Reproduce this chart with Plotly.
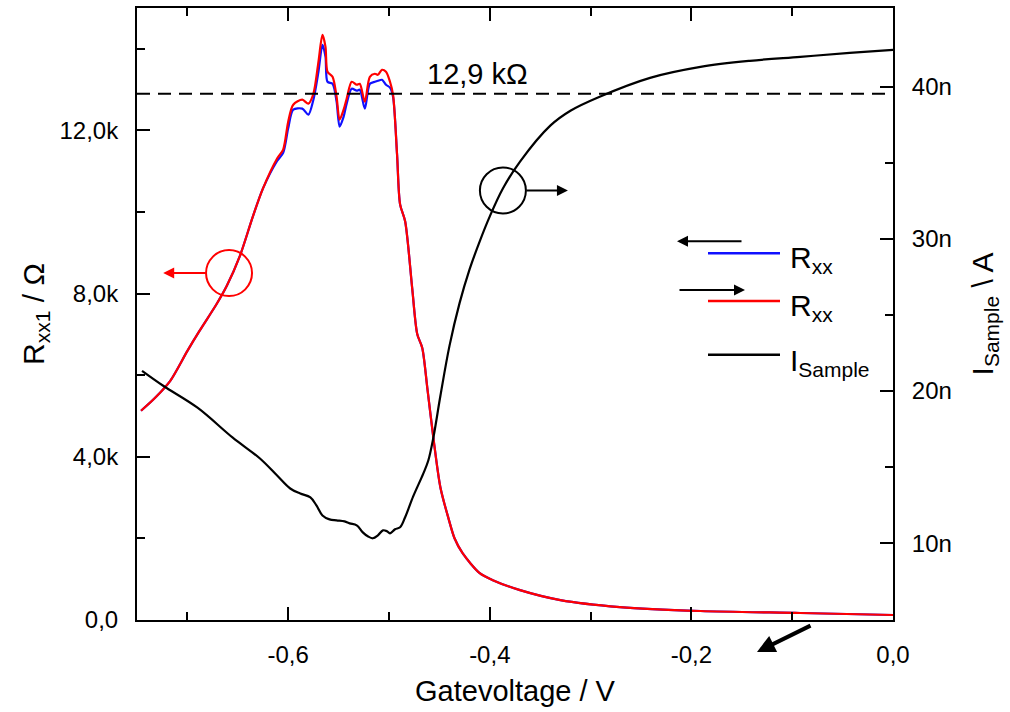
import plotly.graph_objects as go

# Gate sweep: longitudinal resistance (two sweep directions) and sample current
v_rxx = [-0.746, -0.732, -0.717, -0.700, -0.688, -0.671, -0.661, -0.648, -0.635, -0.625,
         -0.611, -0.605, -0.600, -0.595, -0.586, -0.580, -0.575, -0.570, -0.566, -0.563,
         -0.561, -0.556, -0.552, -0.549, -0.545, -0.542, -0.537, -0.532, -0.529, -0.524,
         -0.519, -0.514, -0.511, -0.507, -0.503, -0.499, -0.496, -0.492, -0.489, -0.484,
         -0.477, -0.472, -0.467, -0.462, -0.456, -0.449, -0.441, -0.435, -0.427, -0.410,
         -0.397, -0.370, -0.330, -0.271, -0.191, -0.092, 0.000]

rxx_up = [5130, 5448, 5863, 6596, 7085, 7744, 8184, 8917, 9894, 10578,
          11311, 11531, 12215, 12630, 12752, 12655, 12899, 13681, 14340, 14047,
          13437, 13314, 12826, 12264, 12508, 12777, 13192, 13119, 13143, 12704,
          13314, 13388, 13363, 13485, 13437, 13192, 12875, 11409, 10187, 9772,
          8135, 7011, 6669, 5692, 4471, 3249, 2492, 2003, 1637, 1148,
          977, 733, 489, 318, 220, 171, 122]

rxx_down = [5130, 5448, 5863, 6596, 7085, 7744, 8184, 8917, 9894, 10578,
            11250, 11450, 12050, 12508, 12533, 12386, 12752, 13437, 14096, 13803,
            13192, 13143, 12704, 12093, 12337, 12655, 13021, 12973, 12997, 12533,
            13143, 13192, 13216, 13241, 13119, 13046, 12826, 11409, 10187, 9772,
            8135, 7011, 6669, 5692, 4471, 3249, 2492, 2003, 1637, 1148,
            977, 733, 489, 318, 220, 171, 122]

v_isample = [-0.745, -0.724, -0.690, -0.655, -0.628, -0.611, -0.598, -0.588, -0.578, -0.572,
             -0.566, -0.559, -0.552, -0.544, -0.539, -0.532, -0.526, -0.521, -0.516, -0.511,
             -0.506, -0.502, -0.499, -0.494, -0.489, -0.484, -0.476, -0.466, -0.461, -0.456,
             -0.449, -0.440, -0.430, -0.420, -0.410, -0.400, -0.387, -0.370, -0.340, -0.320,
             -0.291, -0.241, -0.191, -0.142, -0.092, -0.043, 0.000]

i_sample_na = [21.33, 20.35, 18.91, 16.94, 15.57, 14.45, 13.60, 13.27, 13.01, 12.49,
               11.83, 11.57, 11.51, 11.44, 11.31, 11.18, 10.72, 10.46, 10.33, 10.52,
               10.85, 10.79, 10.65, 10.92, 11.05, 11.71, 13.08, 14.58, 15.44, 16.94,
               19.69, 22.97, 25.78, 28.01, 29.84, 31.48, 33.31, 35.08, 37.44, 38.42,
               39.34, 40.58, 41.30, 41.70, 41.96, 42.22, 42.42]

quantum_resistance = 12900  # h/(2e^2), ~12.9 kOhm

x_ticks = [-0.6, -0.4, -0.2, 0.0]
x_ticktext = ["-0,6", "-0,4", "-0,2", "0,0"]
x_minor = [-0.7, -0.5, -0.3, -0.1]
y_ticks = [0, 4000, 8000, 12000]
y_ticktext = ["0,0", "4,0k", "8,0k", "12,0k"]
y_minor = [2000, 6000, 10000, 14000]
y2_ticks = [10, 20, 30, 40]
y2_ticktext = ["10n", "20n", "30n", "40n"]
y2_minor = [15, 25, 35]

FONT = "Arial, Liberation Sans, sans-serif"

fig = go.Figure()
fig.add_trace(go.Scatter(x=v_isample, y=i_sample_na, yaxis="y2", mode="lines",
                         name="I_Sample", line=dict(color="black", width=2.2, shape="spline", smoothing=1.0)))
fig.add_trace(go.Scatter(x=v_rxx, y=rxx_down, mode="lines", name="Rxx (down)",
                         line=dict(color="#1010ff", width=2.2, shape="spline", smoothing=0.8)))
fig.add_trace(go.Scatter(x=v_rxx, y=rxx_up, mode="lines", name="Rxx (up)",
                         line=dict(color="#ff0000", width=2.2, shape="spline", smoothing=0.8)))

# plot area in pixels: x 137..893, y 6..620
PX0, PX1, PY0, PY1 = 137, 893, 6, 620


def px(x):
    return (x - PX0) / (PX1 - PX0)


def py(y):
    return (PY1 - y) / (PY1 - PY0)


shapes = [
    dict(type="line", xref="paper", x0=0, x1=1, yref="y", y0=quantum_resistance, y1=quantum_resistance,
         line=dict(color="black", width=2, dash="13px,8px")),
    # marker circles pointing to the axis of each curve
    dict(type="circle", xref="x", yref="y", xsizemode="pixel", ysizemode="pixel",
         xanchor=-0.6587, yanchor=8502, x0=-23, x1=23, y0=-23, y1=23,
         line=dict(color="#ff0000", width=2)),
    dict(type="circle", xref="x", yref="y2", xsizemode="pixel", ysizemode="pixel",
         xanchor=-0.387, yanchor=33.18, x0=-23, x1=23, y0=-23, y1=23,
         line=dict(color="black", width=2)),
    # legend line samples
    dict(type="line", xref="paper", yref="paper", x0=px(708), x1=px(780), y0=py(252), y1=py(252),
         line=dict(color="#1010ff", width=2.5)),
    dict(type="line", xref="paper", yref="paper", x0=px(708), x1=px(780), y0=py(300), y1=py(300),
         line=dict(color="#ff0000", width=2.5)),
    dict(type="line", xref="paper", yref="paper", x0=px(708), x1=px(780), y0=py(354), y1=py(354),
         line=dict(color="black", width=2.5)),
]

annotations = [
    dict(text="12,9 kΩ", x=-0.412, y=13390, xref="x", yref="y", showarrow=False,
         font=dict(family=FONT, size=29, color="black")),
    dict(x=-0.724, y=8502, xref="x", yref="y", ax=44, ay=0, text="", showarrow=True,
         arrowhead=2, arrowsize=1.1, arrowwidth=2, arrowcolor="#ff0000"),
    dict(x=-0.3225, y=33.18, xref="x", yref="y2", ax=-43, ay=0, text="", showarrow=True,
         arrowhead=2, arrowsize=1.1, arrowwidth=2, arrowcolor="black"),
    dict(x=px(757), y=py(652), xref="paper", yref="paper", ax=55, ay=-27, text="", showarrow=True,
         arrowhead=2, arrowsize=0.9, arrowwidth=4, arrowcolor="black"),
    # legend arrows (sweep direction) and labels
    dict(x=px(677), y=py(240), xref="paper", yref="paper", ax=66, ay=0, text="", showarrow=True,
         arrowhead=2, arrowsize=1.1, arrowwidth=2, arrowcolor="black"),
    dict(x=px(745), y=py(289), xref="paper", yref="paper", ax=-67, ay=0, text="", showarrow=True,
         arrowhead=2, arrowsize=1.1, arrowwidth=2, arrowcolor="black"),
    dict(text="R<sub>xx</sub>", x=px(788), y=py(258), xref="paper", yref="paper", showarrow=False,
         xanchor="left", yanchor="middle", font=dict(family=FONT, size=30, color="black")),
    dict(text="R<sub>xx</sub>", x=px(788), y=py(306), xref="paper", yref="paper", showarrow=False,
         xanchor="left", yanchor="middle", font=dict(family=FONT, size=30, color="black")),
    dict(text="I<sub>Sample</sub>", x=px(788), y=py(362), xref="paper", yref="paper", showarrow=False,
         xanchor="left", yanchor="middle", font=dict(family=FONT, size=30, color="black")),
]

axis_common = dict(showline=True, linewidth=2, linecolor="black", ticks="inside", ticklen=13,
                   tickwidth=2, tickcolor="black", showgrid=False, zeroline=False,
                   tickfont=dict(family=FONT, size=24, color="black"))

fig.update_layout(
    width=1010, height=712, autosize=False,
    margin=dict(l=PX0, r=1010 - PX1, t=PY0, b=712 - PY1),
    paper_bgcolor="white", plot_bgcolor="white",
    showlegend=False,
    font=dict(family=FONT, color="black"),
    xaxis=dict(range=[-0.75, 0.0], tickmode="array", tickvals=x_ticks, ticktext=x_ticktext,
               mirror="ticks", ticklabelstandoff=12,
               minor=dict(tickmode="array", tickvals=x_minor, ticks="inside", ticklen=8, tickwidth=2,
                          tickcolor="black"),
               title=dict(text="Gatevoltage / V", font=dict(family=FONT, size=29), standoff=14),
               **axis_common),
    yaxis=dict(range=[0, 15000], tickmode="array", tickvals=y_ticks, ticktext=y_ticktext,
               ticklabelstandoff=12,
               minor=dict(tickmode="array", tickvals=y_minor, ticks="inside", ticklen=8, tickwidth=2,
                          tickcolor="black"),
               title=dict(text="R<sub>xx1</sub> / Ω", font=dict(family=FONT, size=30), standoff=6),
               **axis_common),
    yaxis2=dict(range=[4.96, 45.17], overlaying="y", side="right", tickmode="array",
                tickvals=y2_ticks, ticktext=y2_ticktext, ticklabelstandoff=12,
                minor=dict(tickmode="array", tickvals=y2_minor, ticks="inside", ticklen=8, tickwidth=2,
                           tickcolor="black"),
                title=dict(text="I<sub>Sample</sub> \\ A", font=dict(family=FONT, size=30), standoff=21),
                **axis_common),
    shapes=shapes,
    annotations=annotations,
)

fig.write_html("out.html")
